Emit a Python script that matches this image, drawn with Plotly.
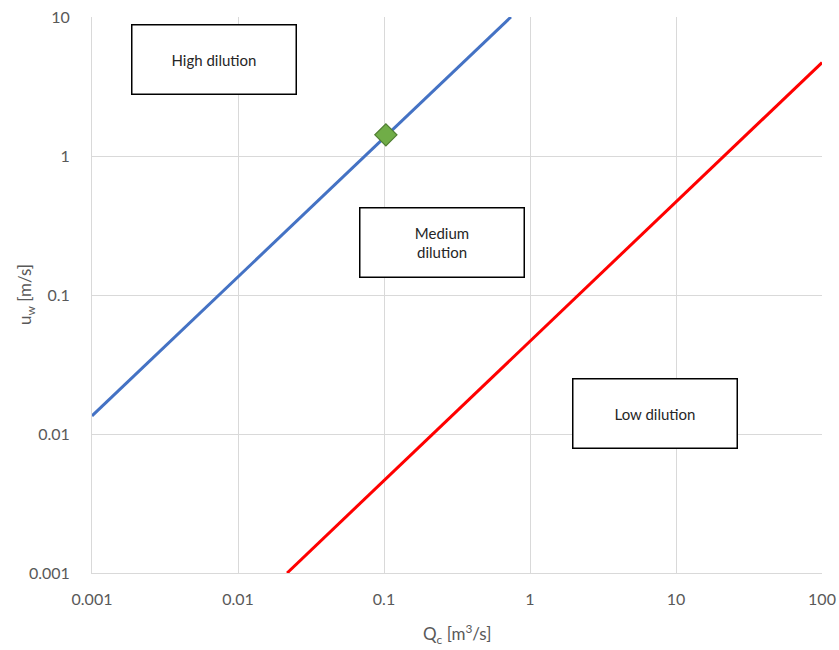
import math
import plotly.graph_objects as go

# Data
blue_x = [0.001, 0.74]
blue_y = [0.0135, 10.0]
red_x = [0.0217, 100.0]
red_y = [0.001, 4.7]
point_x = [0.103]
point_y = [1.42]

x_ticks = [0.001, 0.01, 0.1, 1, 10, 100]
x_ticklabels = ["0.001", "0.01", "0.1", "1", "10", "100"]
y_ticks = [0.001, 0.01, 0.1, 1, 10]
y_ticklabels = ["0.001", "0.01", "0.1", "1", "10"]

x_title = "Q<sub>c</sub> [m<sup>3</sup>/s]"
y_title = "u<sub>w</sub> [m/s]"

region_labels = ["High dilution", "Medium<br>dilution", "Low dilution"]
region_x = [0.0068, 0.248, 7.18]
region_y = [4.91, 0.240, 0.01416]

FONT = "Lato, 'Open Sans', sans-serif"
GRID = "#d9d9d9"
TXT = "#595959"

fig = go.Figure()
fig.add_trace(go.Scatter(x=blue_x, y=blue_y, mode="lines",
                         line=dict(color="#4472c4", width=3), showlegend=False))
fig.add_trace(go.Scatter(x=red_x, y=red_y, mode="lines",
                         line=dict(color="#ff0000", width=3), showlegend=False))
fig.add_trace(go.Scatter(x=point_x, y=point_y, mode="markers",
                         marker=dict(symbol="diamond", size=17, color="#70ad47",
                                     line=dict(color="#507e32", width=1.2)),
                         showlegend=False))

for lab, xv, yv in zip(region_labels, region_x, region_y):
    fig.add_annotation(x=math.log10(xv), y=math.log10(yv), xref="x", yref="y",
                       text=lab, showarrow=False, width=163, height=68,
                       bgcolor="white", bordercolor="black", borderwidth=1.5,
                       borderpad=0, font=dict(family=FONT, size=15, color="#262626"))

# axis titles
fig.add_annotation(x=0.5, y=0, xref="paper", yref="paper", yshift=-61,
                   text=x_title, showarrow=False, xanchor="center", yanchor="middle",
                   font=dict(family=FONT, size=17, color=TXT))
fig.add_annotation(x=0, y=0.5, xref="paper", yref="paper", xshift=-66,
                   text=y_title, showarrow=False, textangle=-90,
                   xanchor="center", yanchor="middle",
                   font=dict(family=FONT, size=17, color=TXT))

fig.update_xaxes(type="log", range=[-3, 2], tickvals=x_ticks, ticktext=x_ticklabels,
                 showgrid=True, gridcolor=GRID, gridwidth=1, automargin=False,
                 showline=True, linecolor=GRID, linewidth=1, zeroline=False,
                 ticks="", ticklabelstandoff=12,
                 tickfont=dict(family=FONT, size=16, color=TXT))
fig.update_yaxes(type="log", range=[-3, 1], tickvals=y_ticks, ticktext=y_ticklabels,
                 showgrid=True, gridcolor=GRID, gridwidth=1, automargin=False,
                 showline=True, linecolor=GRID, linewidth=1, zeroline=False,
                 ticks="", ticklabelstandoff=18,
                 tickfont=dict(family=FONT, size=16, color=TXT))

fig.update_layout(width=839, height=650, margin=dict(l=92, r=17, t=17, b=77),
                  plot_bgcolor="white", paper_bgcolor="white")

fig.write_html("out.html")
